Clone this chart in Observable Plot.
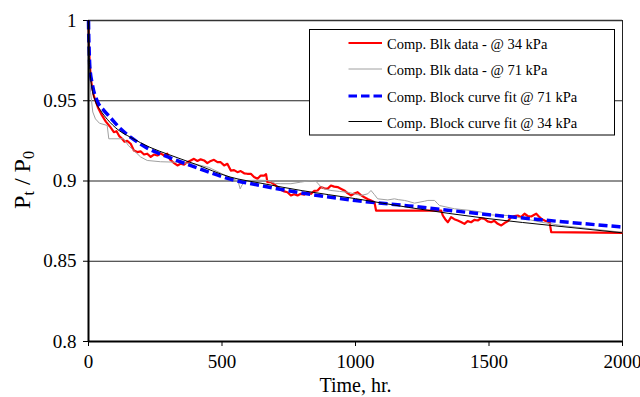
<!DOCTYPE html>
<html>
<head>
<meta charset="utf-8">
<script src="https://cdn.jsdelivr.net/npm/d3@7"></script>
<script src="https://cdn.jsdelivr.net/npm/@observablehq/plot@0.6"></script>
<style>
  html, body { margin: 0; padding: 0; background: #fff; }
  #chart { width: 640px; height: 397px; }
</style>
</head>
<body>
<div id="chart"></div>
<script>
// Normalised pressure P_t / P_0 versus time (hours)

// Compression block test data @ 34 kPa: [time, Pt/P0]
const blk34 = [
  [0,1.0],[2,0.983],[5,0.972],[10,0.962],[20,0.953],[35,0.946],[50,0.941],[65,0.937],[80,0.934],
  [95,0.9304],[105,0.931],[115,0.928],[125,0.9265],[135,0.9245],[145,0.925],[158,0.9232],[170,0.919],
  [183,0.918],[195,0.9185],[208,0.9165],[220,0.917],[233,0.915],[245,0.9165],[258,0.9159],[270,0.9172],
  [283,0.9159],[295,0.917],[305,0.9135],[318,0.9115],[333,0.9097],[345,0.9108],[358,0.9102],[370,0.9117],
  [383,0.9128],[395,0.9138],[408,0.9125],[420,0.9135],[433,0.9128],[445,0.9111],[458,0.9125],[470,0.9132],
  [483,0.9118],[495,0.9117],[508,0.9097],[520,0.9107],[533,0.9065],[545,0.9068],[558,0.9055],[570,0.9062],
  [583,0.9048],[595,0.9045],[608,0.9045],[620,0.9025],[633,0.9014],[645,0.9034],[658,0.9034],[665,0.9043],
  [670,0.8993],[683,0.8993],[695,0.898],[708,0.8962],[720,0.8945],[733,0.8935],[745,0.893],[758,0.891],
  [770,0.8918],[783,0.891],[795,0.892],[808,0.8915],[820,0.893],[833,0.892],[845,0.8938],[858,0.8941],
  [870,0.8962],[883,0.8955],[895,0.8951],[908,0.8972],[920,0.8965],[933,0.8962],[945,0.8952],[958,0.8941],
  [970,0.8925],[983,0.891],[995,0.8922],[1008,0.893],[1020,0.8912],[1033,0.8899],[1045,0.8888],[1058,0.8879],
  [1071,0.8868],[1077,0.8816],[1321,0.8816],[1327,0.8785],[1336,0.8762],[1346,0.8743],[1358,0.8775],
  [1370,0.8762],[1383,0.8754],[1395,0.8745],[1408,0.8733],[1420,0.875],[1433,0.8743],[1445,0.8758],
  [1458,0.8754],[1470,0.8768],[1483,0.8764],[1495,0.8748],[1508,0.8743],[1520,0.8752],[1533,0.8733],
  [1546,0.8723],[1558,0.8738],[1571,0.875],[1583,0.8775],[1595,0.8782],[1608,0.8785],[1620,0.8775],
  [1633,0.8796],[1645,0.8782],[1658,0.8779],[1668,0.8788],[1677,0.8796],[1686,0.878],[1696,0.8764],
  [1710,0.8752],[1727,0.8743],[1733,0.8681],[2000,0.8677]
];

// Compression block test data @ 71 kPa
const blk71 = [
  [0,1.0],[3,0.972],[8,0.955],[16,0.943],[26,0.9387],[41,0.936],[70,0.9346],[76,0.9263],[132,0.9263],
  [150,0.922],[170,0.919],[195,0.915],[220,0.9128],[270,0.912],[333,0.9117],[400,0.9105],[450,0.9085],
  [500,0.9045],[540,0.9015],[560,0.9],[568,0.8951],[575,0.8975],[590,0.9003],[640,0.9005],[670,0.9003],
  [700,0.8985],[720,0.8983],[758,0.8983],[795,0.8993],[833,0.9003],[852,0.8998],[870,0.8965],[883,0.8951],
  [908,0.8941],[940,0.8935],[971,0.893],[1000,0.8918],[1021,0.891],[1046,0.892],[1058,0.8941],[1071,0.8915],
  [1083,0.8889],[1121,0.8882],[1146,0.8889],[1160,0.8884],[1183,0.8879],[1196,0.8874],[1221,0.8862],
  [1258,0.8874],[1271,0.8879],[1296,0.8879],[1308,0.8858],[1315,0.8847],[1371,0.8827],[1433,0.8816],
  [1471,0.8806],[1483,0.879],[1571,0.8785],[1620,0.877],[1696,0.8743],[1771,0.8723],[2000,0.868]
];

// Block curve fit @ 71 kPa
const fit71 = [
  [0,1.0],[1,0.99],[2,0.984],[5,0.971],[14,0.9605],[32,0.95],[55,0.9445],[82,0.9395],[120,0.9325],
  [160,0.927],[220,0.9205],[290,0.9155],[410,0.908],[530,0.9012],[650,0.897],[800,0.8925],[1000,0.8878],
  [1200,0.8845],[1500,0.879],[1750,0.875],[2000,0.8713]
];

// Block curve fit @ 34 kPa
const fit34 = [
  [0,1.0],[1,0.99],[3,0.977],[6,0.968],[12,0.959],[25,0.95],[45,0.944],[70,0.9385],[110,0.932],
  [160,0.927],[230,0.921],[300,0.9165],[400,0.9105],[530,0.9025],[650,0.8985],[800,0.894],[1000,0.889],
  [1200,0.8835],[1500,0.8765],[1750,0.872],[2000,0.8677]
];

const xTicks = [0, 500, 1000, 1500, 2000];
const yTicks = [0.8, 0.85, 0.9, 0.95, 1];
const gridY = [0.85, 0.9, 0.95];

const series = [
  {name: "Comp. Blk data - @ 34 kPa", data: blk34, stroke: "#ff0000", width: 2.2, dash: null, smooth: false},
  {name: "Comp. Blk data - @ 71 kPa", data: blk71, stroke: "#a0a0a0", width: 1, dash: null, smooth: false},
  {name: "Comp. Block curve fit @ 71 kPa", data: fit71, stroke: "#0000ff", width: 3.5, dash: "9,4", smooth: true},
  {name: "Comp. Block curve fit @ 34 kPa", data: fit34, stroke: "#000000", width: 1, dash: null, smooth: true}
];

const font = "'Liberation Serif', 'Times New Roman', serif";

const svg = Plot.plot({
  width: 640,
  height: 397,
  marginLeft: 88,
  marginRight: 18,
  marginTop: 20,
  marginBottom: 56,
  style: {fontFamily: font, fontSize: "19px", background: "#fff", color: "#000", overflow: "visible"},
  x: {domain: [0, 2000]},
  y: {domain: [0.8, 1]},
  marks: [
    Plot.ruleY(gridY, {stroke: "#222", strokeWidth: 1}),
    Plot.ruleY([1], {stroke: "#333", strokeWidth: 1.6}),
    Plot.ruleX([2000], {stroke: "#222", strokeWidth: 1}),
    Plot.axisX(xTicks, {tickSize: 5, tickPadding: 8, label: null, stroke: "#000", tickFormat: d => String(d)}),
    Plot.axisY(yTicks, {tickSize: 5, tickPadding: 7, label: null, stroke: "#000", tickFormat: d => String(d)}),
    ...series.map(s => Plot.line(s.data, {
      x: d => d[0], y: d => d[1],
      stroke: s.stroke, strokeWidth: s.width,
      strokeDasharray: s.dash, strokeLinejoin: "round", strokeLinecap: "butt",
      curve: s.smooth ? "monotone-x" : "linear"
    })),
    Plot.ruleX([0], {stroke: "#000", strokeWidth: 2}),
    Plot.ruleY([0.8], {stroke: "#000", strokeWidth: 2}),
    Plot.text(["Time, hr."], {frameAnchor: "bottom", dy: 44, fontSize: 20, lineAnchor: "middle"})
  ]
});

const root = d3.select(svg);

// y-axis title with subscripts
const yTitle = root.append("text")
  .attr("transform", "translate(30,180) rotate(-90)")
  .attr("text-anchor", "middle")
  .attr("font-family", font)
  .attr("font-size", 24)
  .attr("fill", "#000");
yTitle.append("tspan").text("P");
yTitle.append("tspan").attr("font-size", 16).attr("dy", 4).text("t");
yTitle.append("tspan").attr("dy", -4).text(" / P");
yTitle.append("tspan").attr("font-size", 16).attr("dy", 4).text("0");

// legend box inside the plot area
const lg = root.append("g")
  .attr("font-family", font)
  .attr("font-size", 14.5)
  .attr("text-anchor", "start");
lg.append("rect")
  .attr("x", 309.5).attr("y", 29.5).attr("width", 305).attr("height", 105.5)
  .attr("fill", "#fff").attr("stroke", "#000").attr("stroke-width", 1);
const rowY = [43, 69, 96, 121.5];
series.forEach((s, i) => {
  lg.append("line")
    .attr("x1", 348.5).attr("x2", 382).attr("y1", rowY[i]).attr("y2", rowY[i])
    .attr("stroke", s.stroke).attr("stroke-width", s.width === 3.5 ? 3.2 : s.width)
    .attr("stroke-dasharray", s.dash ? "8.5,4" : null);
  lg.append("text")
    .attr("x", 387).attr("y", rowY[i] + 1).attr("dy", "0.35em")
    .attr("text-anchor", "start")
    .attr("fill", "#000").text(s.name);
});

document.getElementById("chart").appendChild(svg);
</script>
</body>
</html>
